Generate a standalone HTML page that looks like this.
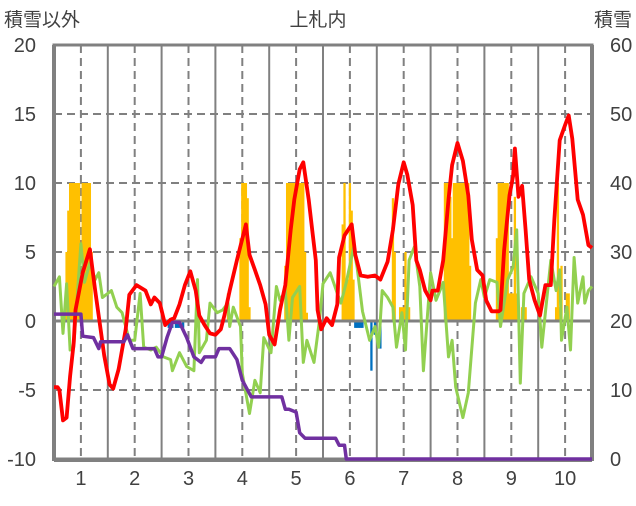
<!DOCTYPE html>
<html><head><meta charset="utf-8">
<style>
html,body{margin:0;padding:0;background:#fff;}
body{width:636px;height:501px;overflow:hidden;font-family:"Liberation Sans","Noto Sans CJK JP",sans-serif;}
svg text{font-family:"Liberation Sans","Noto Sans CJK JP",sans-serif;fill:#404040;}
</style></head>
<body>
<svg id="chart" width="636" height="501" xmlns="http://www.w3.org/2000/svg">
<g id="grid"></g>
<g id="bars"></g>
<g id="axes"></g>
<g id="lines"></g>
<text x="318" y="26" font-size="19" text-anchor="middle">上札内</text>
<text x="4" y="26" font-size="19">積雪以外</text>
<text x="632" y="26" font-size="19" text-anchor="end">積雪</text>
</svg>
<script>
const leftTicks = [20, 15, 10, 5, 0, -5, -10];
const rightTicks = [60, 50, 40, 30, 20, 10, 0];
const monthLabels = ["1","2","3","4","5","6","7","8","9","10"];
const redDay = [0,2,3,5,7,9,11,12,16,20,23,26,28,31,33,36,40,42,46,51,54,56,59,62,65,67,70,73,76,79,81,84,87,90,93,95,98,102,107,109,112,115,118,120,123,126,129,132,134,137,139,142,144,146,147,149,152,155,158,159,162,166,168,171,175,179,182,186,189,192,195,197,200,202,204,207,210,211,214,217,220,222,225,228,231,233,236,239,241,244,248,249,251,254,256,257,259,261,263,265,268,271,274,277,279,282,285,287,289,292,295,298,300];
const redVal = [-4.8,-4.8,-5.0,-7.2,-7.0,-4.0,-1.6,0.8,3.5,5.2,2.2,-0.6,-2.5,-4.6,-4.9,-3.5,-0.6,1.9,2.6,2.2,1.2,1.7,1.3,-0.3,0.1,0.2,1.2,2.6,3.6,2.2,0.4,-0.3,-0.9,-1.0,-0.6,0.4,2.2,4.4,7.0,4.8,3.7,2.6,1.2,-1.0,-1.7,0.8,2.6,6.6,8.8,11.0,11.5,8.8,6.6,4.4,0.8,-0.6,0.2,-0.3,1.2,4.6,6.2,7.0,4.8,3.3,3.2,3.3,3.0,4.3,6.6,9.9,11.5,10.6,8.4,4.4,3.7,2.2,1.5,2.2,2.2,4.4,8.8,11.3,12.9,11.6,9.1,5.9,3.7,3.3,1.5,0.7,0.7,0.8,5.1,9.1,10.5,12.5,9.0,9.8,6.6,3.0,1.5,0.4,2.6,2.6,7.3,13.1,14.2,14.9,13.2,8.8,7.7,5.5,5.3];
const greenDay = [0,3,5,7,9,11,15,17,20,23,25,27,30,32,35,38,41,42,45,48,50,54,57,61,65,66,70,74,78,80,81,85,87,91,94,97,98,100,104,105,109,112,115,117,121,124,126,129,131,133,137,139,141,145,148,150,154,158,160,163,167,169,172,176,179,181,183,186,189,191,194,196,198,201,204,206,210,213,217,220,222,224,228,231,235,238,240,243,247,249,253,256,258,260,262,266,270,272,277,280,282,283,286,288,290,292,295,296,298,300];
const greenVal = [2.5,3.2,-0.9,2.7,-2.1,-1.9,5.6,2.8,4.2,3.0,3.5,1.7,2.0,2.2,1.0,0.6,-0.9,-1.4,-1.4,2.0,-1.9,-2.1,-1.9,-2.6,-2.8,-3.6,-2.3,-3.3,-3.6,3.0,-2.3,-1.4,1.3,0.6,0.8,1.3,-0.4,1.0,-0.4,-3.8,-6.7,-4.3,-5.2,-1.2,-2.3,2.5,1.5,2.2,-1.4,1.7,2.5,-3.0,-1.4,-3.0,0,2.7,3.5,2.0,1.3,2.8,5.3,3.9,0.7,-1.4,-0.4,-1.9,2.2,1.7,1.0,-1.9,0.6,-2.1,4.4,5.4,2.5,-3.6,3.5,1.5,2.8,-2.6,-1.4,-4.8,-7.0,-5.2,1.3,3.0,1.7,3.0,2.8,-0.4,3.0,3.9,6.6,-4.5,2.0,3.2,2.0,-1.9,4.4,2.2,3.7,-1.4,1.0,-2.1,4.6,1.3,3.2,1.3,2.2,2.5];
const purpleDay = [0,15,16,22,25,26,39,41,44,56,58,60,63,66,70,74,78,82,84,90,92,98,102,105,110,127,129,131,135,137,140,157,159,162,163,300];
const purpleVal = [0.5,0.5,-1.1,-1.2,-2.0,-1.5,-1.5,-1.0,-2.0,-2.0,-2.6,-2.6,-1.2,-0.1,-0.1,-1.2,-2.6,-3.0,-2.6,-2.6,-2.0,-2.0,-2.8,-4.3,-5.5,-5.5,-6.4,-6.4,-6.6,-8.1,-8.5,-8.5,-9.0,-9.0,-10,-10];
const orangeDay = [7,8,9,10,11,12,13,14,15,16,17,18,19,20,21,97,104,105,106,107,108,109,129,130,131,132,133,134,135,136,137,138,139,140,141,161,162,163,164,165,166,167,189,190,193,194,195,196,197,198,218,219,220,221,222,223,224,225,226,227,228,229,230,231,232,247,248,249,250,251,252,253,254,255,256,257,258,261,262,263,280,281,282,283,286,287];
const orangeVal = [5,8,10,10,10,10,10,10,3,10,10,10,10,10,5,2,6,10,10,10,8.9,1,4,10,10,10,10,10,10,10,10,10,10,5,0.6,7,10,3,3,10,8,3,8.9,5,1,1,1,5,1,1,10,10,10,9,6,10,10,10,10,10,10,10,10,10,4,6,10,10,10,10,10,10,2,2,2,9,2,1,1,1,1,10,1,4,2,2];
const blueDay = [64,65,66,68,69,70,72,168,169,170,171,172,177,179,182];
const blueVal = [-0.5,-0.5,-0.5,-0.5,-0.5,-0.5,-0.5,-0.5,-0.5,-0.5,-0.5,-0.5,-3.6,-1.0,-2.0];

const X0 = 54, X1 = 592, YT = 45, YB = 459;
const xDay = d => X0 + d * (X1 - X0) / 300;
const yL = v => YB - (v + 10) * (YB - YT) / 30;
const yR = v => YB - v * (YB - YT) / 60;
const NS = "http://www.w3.org/2000/svg";
function mk(tag, attrs, parent) {
  const e = document.createElementNS(NS, tag);
  for (const k in attrs) e.setAttribute(k, attrs[k]);
  parent.appendChild(e);
  return e;
}
const grid = document.getElementById('grid');
const bars = document.getElementById('bars');
const lines = document.getElementById('lines');
const axes = document.getElementById('axes');

leftTicks.forEach(v => {
  if (v === 0 || v === -10) return;
  const l = mk('line', {x1: X0, x2: X1, y1: yL(v), y2: yL(v), stroke: '#808080', 'stroke-width': 2, 'stroke-dasharray': '8,5'}, grid);
  
  
});
for (let m = 0; m < 10; m++) {
  if (m > 0) {
    const s = mk('line', {x1: xDay(m*30), x2: xDay(m*30), y1: YT, y2: YB, stroke: '#808080', 'stroke-width': 2}, grid);
    
    
  }
  const d = mk('line', {x1: xDay(m*30+15), x2: xDay(m*30+15), y1: YT, y2: YB, stroke: '#808080', 'stroke-width': 2, 'stroke-dasharray': '8,5'}, grid);
  
  
}
const bw = (X1 - X0) / 300 + 0.5;
orangeDay.forEach((d, i) => {
  const v = orangeVal[i];
  const r = mk('rect', {x: xDay(d) - bw/2, y: yL(v), width: bw, height: yL(0) - yL(v), fill: '#ffc000'}, bars);
  
  
});
blueDay.forEach((d, i) => {
  const v = blueVal[i];
  const r = mk('rect', {x: xDay(d) - bw/2, y: yL(0), width: bw, height: yL(v) - yL(0), fill: '#0070c0'}, bars);
  
  
});
const z = mk('line', {x1: X0, x2: X1, y1: yL(0), y2: yL(0), stroke: '#808080', 'stroke-width': 3}, axes);


const frame = mk('rect', {x: X0, y: YT, width: X1 - X0, height: YB - YT, fill: 'none', stroke: '#808080', 'stroke-width': 3}, axes);


const la = mk('line', {x1: X0, x2: X0, y1: YT, y2: YB + 2, stroke: '#808080', 'stroke-width': 4}, axes);


const ra = mk('line', {x1: X1, x2: X1, y1: YT, y2: YB + 2, stroke: '#808080', 'stroke-width': 4}, axes);


const ba = mk('line', {x1: X0, x2: X1, y1: YB + 1, y2: YB + 1, stroke: '#808080', 'stroke-width': 4}, axes);



function poly(xs, ys, color, w, name) {
  const pts = xs.map((x, i) => x.toFixed(1) + ',' + ys[i].toFixed(1)).join(' ');
  const p = mk('polyline', {points: pts, fill: 'none', stroke: color, 'stroke-width': w, 'stroke-linejoin': 'round'}, lines);
  
  
}
poly(greenDay.map(xDay), greenVal.map(yL), '#92d050', 3, 'green-series-line');
poly(redDay.map(xDay), redVal.map(yL), '#ff0000', 3.8, 'red-series-line');
poly(purpleDay.map(xDay), purpleVal.map(yL), '#7030a0', 3.5, 'purple-series-line');

leftTicks.forEach(v => {
  const t = mk('text', {x: 36, y: yL(v) + 7, 'font-size': 20, 'text-anchor': 'end'}, axes);
  t.textContent = v;
  
  
});
rightTicks.forEach(v => {
  const t = mk('text', {x: 610, y: yR(v) + 7, 'font-size': 20, 'text-anchor': 'start'}, axes);
  t.textContent = v;
  
  
});
monthLabels.forEach((m, i) => {
  const t = mk('text', {x: xDay(i*30 + 15), y: 485, 'font-size': 20, 'text-anchor': 'middle'}, axes);
  t.textContent = m;
  
  
});
</script>
</body></html>
